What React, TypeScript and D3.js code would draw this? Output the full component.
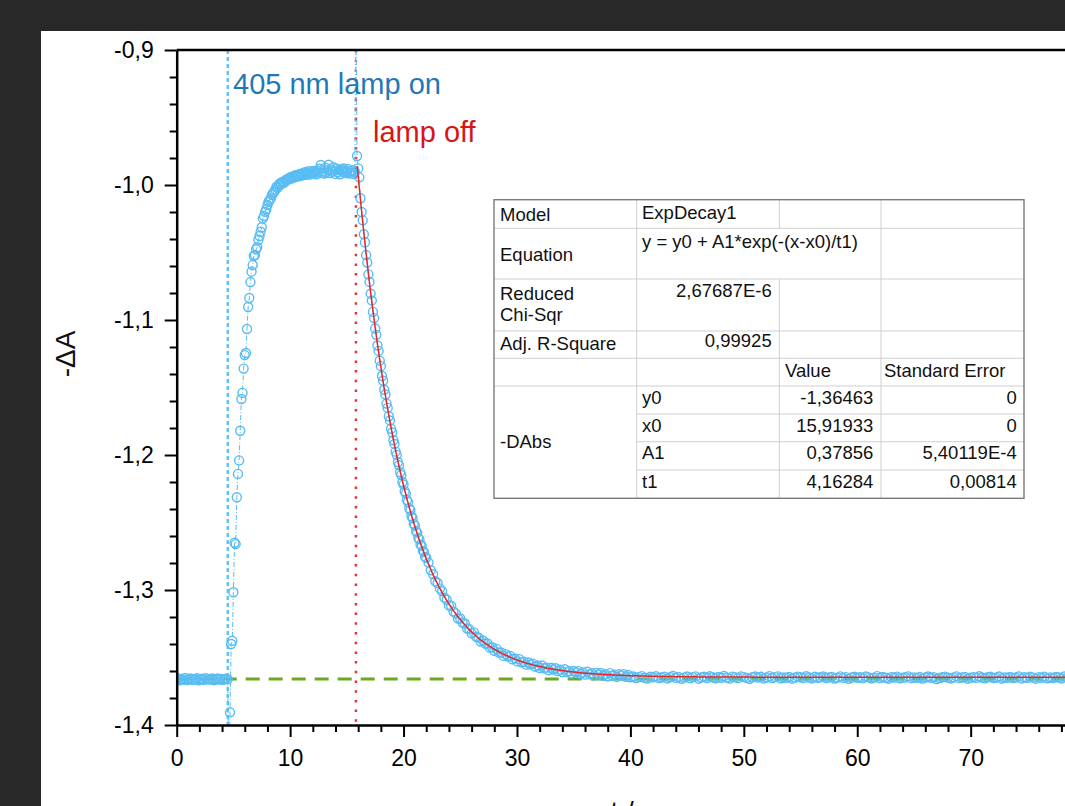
import React, { useEffect, useRef } from "react";
import * as d3 from "d3";

const W = 1065;
const H = 806;
const FONT = "'Liberation Sans', Arial, Helvetica, sans-serif";

// -dA readings, per sampling block (start time, step in s, values)
const darkStart = 0;
const darkStep = 0.15;
const darkDA = [
  -1.3662, -1.3655, -1.3668, -1.3659, -1.3664, -1.3652, -1.3667, -1.366, -1.3656, -1.3665,
  -1.3658, -1.3663, -1.3654, -1.3669, -1.3661, -1.3657, -1.3666, -1.3653, -1.3662, -1.3659,
  -1.3664, -1.3656, -1.3668, -1.366, -1.3655, -1.3663, -1.3658, -1.3665, -1.3661, -1.3657, -1.3662,
];

const lampStart = 4.6;
const lampStep = 0.1;
const lampDA = [
  -1.45, -1.3906, -1.34, -1.3376, -1.3017, -1.265, -1.266, -1.2313, -1.214, -1.204,
  -1.182, -1.1585, -1.154, -1.136, -1.126, -1.1244, -1.1067, -1.0904, -1.0837, -1.0719,
  -1.0642, -1.0593, -1.0526, -1.0519, -1.0476, -1.0461, -1.0407, -1.0378, -1.0346, -1.0313,
  -1.0247, -1.023, -1.0198, -1.018, -1.0148, -1.0124, -1.011, -1.0099, -1.0074, -1.006,
  -1.005, -1.0035, -1.0012, -1.002, -0.9998, -0.9988, -0.9995, -0.9978, -0.9975, -0.9982,
  -0.9965, -0.9958, -0.9962, -0.995, -0.9943, -0.9952, -0.9938, -0.9945, -0.993, -0.994,
  -0.9925, -0.9935, -0.992, -0.9932, -0.9915, -0.9928, -0.9918, -0.9905, -0.9925, -0.991,
  -0.9898, -0.9922, -0.9905, -0.9915, -0.9895, -0.9912, -0.99, -0.992, -0.9893, -0.9908,
  -0.988, -0.9852, -0.991, -0.9898, -0.9915, -0.9872, -0.9905, -0.989, -0.985, -0.9912,
  -0.9885, -0.9902, -0.9868, -0.9895, -0.9918, -0.988, -0.9905, -0.989, -0.992, -0.9885,
  -0.99, -0.9878, -0.9912, -0.9895, -0.9905, -0.9882, -0.9915, -0.9898, -0.9908, -0.989,
  -0.9918, -0.99, -0.86, -0.9785, -0.9877, -0.9943,
];

const decayStart = 16.2;
const decayStep = 0.1;
const decayDA = [
  -1.0098, -1.02, -1.0262, -1.0365, -1.0425, -1.0519, -1.0574, -1.0662, -1.0718, -1.0805,
  -1.0855, -1.094, -1.0986, -1.1063, -1.111, -1.1189, -1.1229, -1.1301, -1.1342, -1.1415,
  -1.145, -1.1517, -1.1552, -1.1619, -1.1651, -1.1713, -1.1744, -1.1806, -1.1833, -1.1891,
  -1.1918, -1.1975, -1.1999, -1.2052, -1.2076, -1.2128, -1.2149, -1.22, -1.2219, -1.2268,
  -1.2286, -1.2333, -1.2349, -1.2395, -1.241, -1.2454, -1.2468, -1.251, -1.2523, -1.2564,
  -1.2575, -1.2615, -1.2625, -1.2664, -1.2672, -1.271, -1.2718, -1.2755, -1.2761,
];

const slowStart = 22.2;
const slowStep = 0.2;
const slowDA = [
  -1.2797, -1.2854, -1.2883, -1.2935, -1.2948, -1.299, -1.3009, -1.3057, -1.3072, -1.3114,
  -1.3117, -1.3159, -1.3173, -1.3211, -1.3211, -1.3241, -1.3248, -1.3285, -1.329, -1.3321,
  -1.3314, -1.3347, -1.3352, -1.3382, -1.3374, -1.3396, -1.3396, -1.3427, -1.3424, -1.345,
  -1.3436, -1.3464, -1.3463, -1.3488, -1.3475, -1.3493, -1.3488, -1.3514, -1.3507, -1.3529,
  -1.3512, -1.3536, -1.3532, -1.3553, -1.3537, -1.3552, -1.3545, -1.3568, -1.3559, -1.3578,
  -1.3559, -1.358, -1.3575, -1.3594, -1.3576, -1.3589, -1.358, -1.3601, -1.3591, -1.3608,
  -1.3587, -1.3608, -1.3601, -1.3619, -1.36, -1.3612, -1.3601, -1.3622, -1.361, -1.3627,
  -1.3605, -1.3625, -1.3617, -1.3634, -1.3614, -1.3626, -1.3615, -1.3635, -1.3623, -1.3639,
  -1.3616, -1.3635, -1.3627, -1.3644, -1.3624, -1.3634, -1.3623, -1.3643, -1.363, -1.3646,
];

const tailStart = 40.25;
const tailStep = 0.25;
const tailDA = [
  -1.3641, -1.3652, -1.3645, -1.3638, -1.365, -1.3656, -1.3643, -1.3647, -1.3639, -1.3653,
  -1.3648, -1.3642, -1.3655, -1.3646, -1.3637, -1.3651, -1.3644, -1.3658, -1.3649, -1.3641,
  -1.3653, -1.3645, -1.364, -1.3657, -1.3648, -1.3643, -1.3652, -1.3639, -1.3646, -1.3654,
  -1.3644, -1.365, -1.3637, -1.3649, -1.3656, -1.3642, -1.3647, -1.3653, -1.364, -1.3645,
  -1.3651, -1.3658, -1.3646, -1.3641, -1.3649, -1.3643, -1.3655, -1.3648, -1.3638, -1.3652,
  -1.3645, -1.364, -1.3654, -1.3647, -1.365, -1.3644, -1.3657, -1.3649, -1.3642, -1.3646,
  -1.3653, -1.3639, -1.3648, -1.3655, -1.3643, -1.365, -1.3646, -1.3641, -1.3652, -1.3647,
  -1.3644, -1.3656, -1.3649, -1.364, -1.3651, -1.3645, -1.3658, -1.3648, -1.3643, -1.365,
  -1.3646, -1.3653, -1.3641, -1.3647, -1.3655, -1.3649, -1.3638, -1.3652, -1.3644, -1.365,
  -1.3657, -1.3645, -1.3648, -1.3642, -1.3654, -1.3649, -1.3646, -1.364, -1.3653, -1.3647,
  -1.3651, -1.3644, -1.3656, -1.3648, -1.3641, -1.365, -1.3645, -1.3659, -1.3652, -1.3646,
  -1.3642, -1.3649, -1.3655, -1.3647, -1.364, -1.3653, -1.3648, -1.3644, -1.3657, -1.365,
  -1.3645, -1.3651, -1.3639, -1.3648, -1.3654, -1.3646, -1.3643, -1.3652, -1.3649, -1.3641,
  -1.3656, -1.3647, -1.365, -1.3644, -1.3653, -1.3648, -1.364, -1.3655, -1.3646, -1.3651,
  -1.3643, -1.3649, -1.3657, -1.3645, -1.365, -1.3642, -1.3654, -1.3647, -1.3652, -1.3644,
  -1.3648, -1.3655, -1.3641, -1.365, -1.3646, -1.3653, -1.3643, -1.3649, -1.3656, -1.3645,
];

// ExpDecay1 fit result (from the table)
const fitY0 = -1.36463;
const fitX0 = 15.91933;
const fitA1 = 0.37856;
const fitT1 = 4.16284;

const lampOnT = 4.5;
const lampOffT = 15.8;
const baselineDA = -1.366;

const xTicks = [0, 10, 20, 30, 40, 50, 60, 70];
const yTicks = [-1.4, -1.3, -1.2, -1.1, -1.0, -0.9];

// fit report table
const tableRows = [
  ["Model", "ExpDecay1"],
  ["Equation", "y = y0 + A1*exp(-(x-x0)/t1)"],
  ["Reduced|Chi-Sqr", "2,67687E-6"],
  ["Adj. R-Square", "0,99925"],
];
const paramNames = ["y0", "x0", "A1", "t1"];
const paramValues = ["-1,36463", "15,91933", "0,37856", "4,16284"];
const paramErrors = ["0", "0", "5,40119E-4", "0,00814"];

const block = (start: number, step: number, vals: number[]) =>
  vals.map((v, i) => ({ t: +(start + i * step).toFixed(3), v }));

const points = [
  ...block(darkStart, darkStep, darkDA),
  ...block(lampStart, lampStep, lampDA),
  ...block(decayStart, decayStep, decayDA),
  ...block(slowStart, slowStep, slowDA),
  ...block(tailStart, tailStep, tailDA),
];

const x = d3.scaleLinear().domain([0, 80]).range([176.7, 1084.1]);
const y = d3.scaleLinear().domain([-1.4, -0.9]).range([725, 50]);

function Axes() {
  const xRef = useRef<SVGGElement>(null);
  const xMinorRef = useRef<SVGGElement>(null);
  const yRef = useRef<SVGGElement>(null);
  const yMinorRef = useRef<SVGGElement>(null);

  useEffect(() => {
    const xMinor = d3.range(0, 81, 2).filter((d) => d % 10 !== 0);
    const yMinor = d3.range(-1.4, -0.899, 0.02).filter((d) => Math.abs(Math.round(d * 10) - d * 10) > 0.01);

    const gx = d3.select(xRef.current!);
    gx.call(
      d3.axisBottom(x).tickValues(xTicks).tickSize(12).tickPadding(13).tickSizeOuter(0)
        .tickFormat((d) => String(d))
    );
    const gxm = d3.select(xMinorRef.current!);
    gxm.call(d3.axisBottom(x).tickValues(xMinor).tickSize(7).tickSizeOuter(0).tickFormat(() => ""));
    gxm.select(".domain").remove();

    const gy = d3.select(yRef.current!);
    gy.call(
      d3.axisLeft(y).tickValues(yTicks).tickSize(12).tickPadding(11).tickSizeOuter(0)
        .tickFormat((d) => (d as number).toFixed(1).replace(".", ","))
    );
    const gym = d3.select(yMinorRef.current!);
    gym.call(d3.axisLeft(y).tickValues(yMinor).tickSize(7).tickSizeOuter(0).tickFormat(() => ""));
    gym.select(".domain").remove();

    [gx, gy].forEach((g) => {
      g.attr("font-size", 23).attr("font-family", FONT);
      g.select(".domain").attr("stroke", "#000").attr("stroke-width", 2.5);
      g.selectAll(".tick text").attr("fill", "#000");
    });
    [gx, gy, gxm, gym].forEach((g) => {
      g.selectAll(".tick line").attr("stroke", "#000").attr("stroke-width", 2);
    });
  }, []);

  return (
    <g>
      <g ref={xMinorRef} transform={`translate(0,${y(-1.4)})`} />
      <g ref={xRef} transform={`translate(0,${y(-1.4)})`} />
      <g ref={yMinorRef} transform={`translate(${x(0)},0)`} />
      <g ref={yRef} transform={`translate(${x(0)},0)`} />
    </g>
  );
}

function FitTable() {
  const cx = [494, 636.7, 779.3, 881, 1024];
  const ry = [199.7, 228.3, 279, 331, 358.3, 386, 414, 441.7, 470, 498.3];
  const grid = "#cfcfcf";
  const txt = { fontFamily: FONT, fontSize: 18.5, fill: "#111" } as const;
  return (
    <g>
      <rect x={cx[0]} y={ry[0]} width={cx[4] - cx[0]} height={ry[9] - ry[0]} fill="#fff" />
      {[1, 2, 3, 4, 5].map((i) => (
        <line key={"h" + i} x1={cx[0]} x2={cx[4]} y1={ry[i]} y2={ry[i]} stroke={grid} />
      ))}
      {[6, 7, 8].map((i) => (
        <line key={"hp" + i} x1={cx[1]} x2={cx[4]} y1={ry[i]} y2={ry[i]} stroke={grid} />
      ))}
      <line x1={cx[1]} x2={cx[1]} y1={ry[0]} y2={ry[9]} stroke={grid} />
      <line x1={cx[2]} x2={cx[2]} y1={ry[0]} y2={ry[1]} stroke={grid} />
      <line x1={cx[2]} x2={cx[2]} y1={ry[2]} y2={ry[9]} stroke={grid} />
      <line x1={cx[3]} x2={cx[3]} y1={ry[0]} y2={ry[9]} stroke={grid} />
      <rect x={cx[0]} y={ry[0]} width={cx[4] - cx[0]} height={ry[9] - ry[0]} fill="none" stroke="#7a7a7a" strokeWidth={1.4} />

      <text {...txt} x={500} y={221}>{tableRows[0][0]}</text>
      <text {...txt} x={642} y={218.5}>{tableRows[0][1]}</text>
      <text {...txt} x={500} y={260.5}>{tableRows[1][0]}</text>
      <text {...txt} x={642} y={248}>{tableRows[1][1]}</text>
      {tableRows[2][0].split("|").map((s, i) => (
        <text key={s} {...txt} x={500} y={300 + i * 21}>{s}</text>
      ))}
      <text {...txt} x={771.7} y={297} textAnchor="end">{tableRows[2][1]}</text>
      <text {...txt} x={500} y={350}>{tableRows[3][0]}</text>
      <text {...txt} x={771.7} y={347} textAnchor="end">{tableRows[3][1]}</text>
      <text {...txt} x={785} y={376.5}>Value</text>
      <text {...txt} x={884} y={376.5}>Standard Error</text>
      <text {...txt} x={500} y={448}>-DAbs</text>
      {paramNames.map((p, i) => (
        <g key={p}>
          <text {...txt} x={642} y={ry[5 + i] + 17.5}>{p}</text>
          <text {...txt} x={873.3} y={ry[5 + i] + 17.5} textAnchor="end">{paramValues[i]}</text>
          <text {...txt} x={1016.7} y={ry[5 + i] + 17.5} textAnchor="end">{paramErrors[i]}</text>
        </g>
      ))}
    </g>
  );
}

export default function App() {
  const dataLine = d3
    .line<{ t: number; v: number }>()
    .x((d) => x(d.t))
    .y((d) => y(d.v))(points);

  const fitTimes = [fitX0, ...points.filter((p) => p.t > fitX0).map((p) => p.t)];
  const fitLine = d3
    .line<number>()
    .x((t) => x(t))
    .y((t) => y(fitY0 + fitA1 * Math.exp(-(t - fitX0) / fitT1)))(fitTimes);

  const blue = "#58bcf4";

  return (
    <svg width={W} height={H} style={{ position: "absolute", left: 0, top: 0 }}>
      <defs>
        <clipPath id="plot">
          <rect x={x(0)} y={y(-0.9)} width={x(80) - x(0)} height={y(-1.4) - y(-0.9)} />
        </clipPath>
      </defs>
      <rect width={W} height={H} fill="#282828" />
      <rect x={41} y={31} width={W - 41} height={H - 31} fill="#fff" />

      <g clipPath="url(#plot)">
        <line x1={x(0)} x2={x(80)} y1={y(baselineDA)} y2={y(baselineDA)} stroke="#6aaa1e" strokeWidth={3} strokeDasharray="14 9" />
        <line x1={x(lampOnT)} x2={x(lampOnT)} y1={y(-0.9)} y2={y(-1.4)} stroke="#5cc2f7" strokeWidth={2.4} strokeDasharray="4 3" />
        <line x1={x(lampOffT)} x2={x(lampOffT)} y1={y(-0.9)} y2={y(-1.4)} stroke="#e03535" strokeWidth={2.5} strokeDasharray="2.5 7.2" />
        <path d={dataLine ?? ""} fill="none" stroke={blue} strokeWidth={1} strokeDasharray="5 2 1 2" />
        {points.map((p, i) => (
          <circle key={i} cx={x(p.t)} cy={y(p.v)} r={4.5} fill="none" stroke={blue} strokeWidth={1.4} />
        ))}
        <path d={fitLine ?? ""} fill="none" stroke="#e8262a" strokeWidth={1.5} />
      </g>

      <line x1={x(0)} x2={W} y1={y(-0.9)} y2={y(-0.9)} stroke="#000" strokeWidth={2.5} />
      <Axes />

      <text x={233} y={94} fontFamily={FONT} fontSize={29} fill="#1f79b9">405 nm lamp on</text>
      <text x={373} y={142} fontFamily={FONT} fontSize={29} fill="#d81414">lamp off</text>

      <text transform="translate(75,354) rotate(-90)" textAnchor="middle" fontFamily={FONT} fontSize={28} fill="#111">-ΔA</text>
      <text x={633} y={821} textAnchor="middle" fontFamily={FONT} fontSize={28} fill="#111">t / s</text>

      <FitTable />
    </svg>
  );
}
